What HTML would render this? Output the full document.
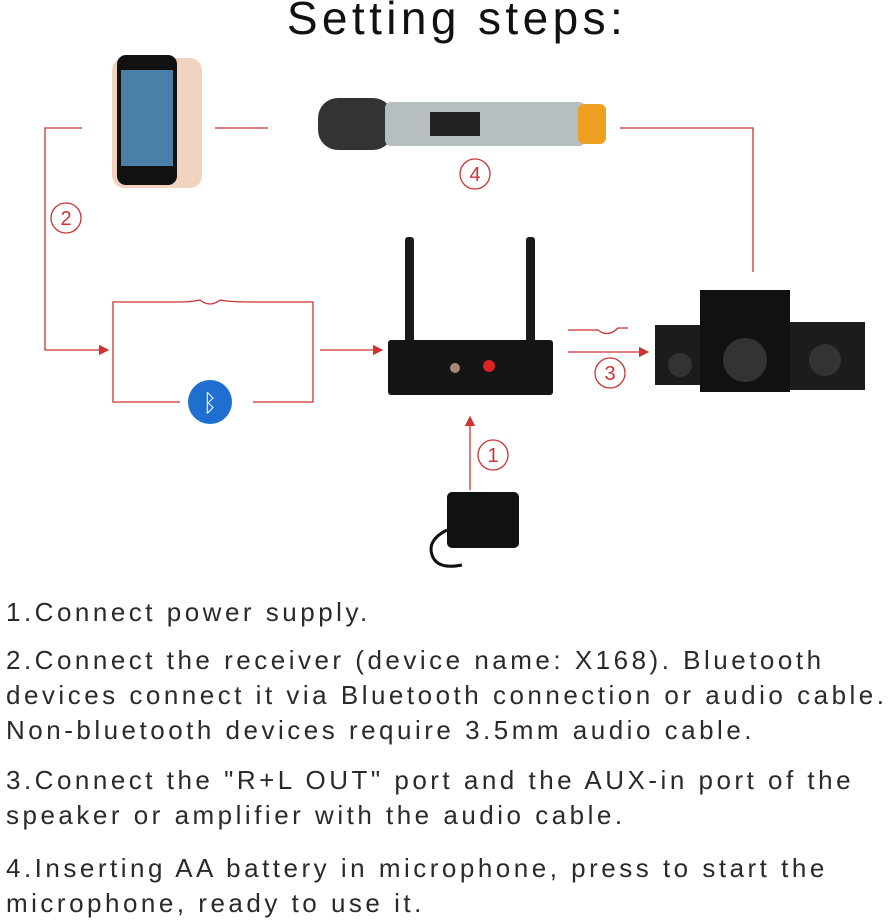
<!DOCTYPE html>
<html><head><meta charset="utf-8"><style>
body{margin:0;width:890px;height:921px;background:#fff;position:relative;overflow:hidden;font-family:"Liberation Sans",sans-serif}
.t{position:absolute;left:6px;white-space:nowrap;font-size:26px;letter-spacing:3.5px;color:#2a2a2a;line-height:35px}
</style></head><body>
<div style="position:absolute;top:-9px;left:0;width:914px;text-align:center;font-size:46px;letter-spacing:4.4px;color:#111">Setting steps:</div>
<svg width="890" height="600" style="position:absolute;left:0;top:0">
<defs><marker id="a" markerWidth="8" markerHeight="8" refX="7" refY="4" orient="auto"><path d="M0,0L8,4L0,8z" fill="#c33"/></marker></defs>
<g stroke="#c33" stroke-width="1.3" fill="none">
<path d="M82,128H45V350H108" marker-end="url(#a)"/>
<path d="M215,128H268"/>
<path d="M620,128H753V272"/>
<path d="M180,302H113V402H180M253,302H313V402H253"/>
<path d="M320,350H382" marker-end="url(#a)"/>
<path d="M568,352H648" marker-end="url(#a)"/>
<path d="M470,490V417" marker-end="url(#a)"/>
<circle cx="66" cy="218" r="15"/><circle cx="475" cy="174" r="15"/>
<circle cx="610" cy="373" r="15"/><circle cx="493" cy="455" r="15"/>
<path d="M180,302q10,0 20,-2q10,8 20,0 q10,2 33,2"/>
<path d="M568,330h30q10,8 20,-2h10"/>
</g>
<g fill="#c33" font-size="20" text-anchor="middle"><text x="66" y="225">2</text><text x="475" y="181">4</text><text x="610" y="380">3</text><text x="493" y="462">1</text></g>
<rect x="112" y="58" width="90" height="130" rx="12" fill="#f1d3c0"/>
<rect x="117" y="55" width="60" height="130" rx="9" fill="#111"/>
<rect x="121" y="70" width="52" height="96" fill="#4a7fa8"/>
<rect x="318" y="98" width="75" height="52" rx="20" fill="#333"/>
<rect x="385" y="102" width="200" height="44" rx="6" fill="#b7bec2"/>
<rect x="430" y="112" width="50" height="24" fill="#222"/>
<rect x="578" y="104" width="28" height="40" rx="6" fill="#f0a020"/>
<rect x="405" y="237" width="9" height="110" rx="3" fill="#1a1a1a"/>
<rect x="526" y="237" width="9" height="110" rx="3" fill="#1a1a1a"/>
<rect x="388" y="340" width="165" height="55" rx="3" fill="#151515"/>
<circle cx="489" cy="366" r="6" fill="#d22"/><circle cx="455" cy="368" r="5" fill="#a87" />
<rect x="655" y="325" width="50" height="60" fill="#1c1c1c"/>
<rect x="785" y="322" width="80" height="68" fill="#1c1c1c"/>
<rect x="700" y="290" width="90" height="102" fill="#111"/>
<circle cx="745" cy="360" r="22" fill="#333"/><circle cx="825" cy="360" r="16" fill="#333"/><circle cx="680" cy="365" r="12" fill="#333"/>
<circle cx="210" cy="402" r="22" fill="#1e6fd0"/>
<text x="210" y="411" fill="#fff" font-size="24" text-anchor="middle">ᛒ</text>
<rect x="447" y="492" width="72" height="56" rx="5" fill="#111"/>
<path d="M447,530q-20,10 -15,25t30,10" stroke="#111" stroke-width="3" fill="none"/>
</svg>
<div class="t" style="top:595px">1.Connect power supply.</div>
<div class="t" style="top:643px">2.Connect the receiver (device name: X168). Bluetooth</div>
<div class="t" style="top:678px">devices connect it via Bluetooth connection or audio cable.</div>
<div class="t" style="top:713px">Non-bluetooth devices require 3.5mm audio cable.</div>
<div class="t" style="top:763px">3.Connect the "R+L OUT" port and the AUX-in port of the</div>
<div class="t" style="top:798px">speaker or amplifier with the audio cable.</div>
<div class="t" style="top:851px">4.Inserting AA battery in microphone, press to start the</div>
<div class="t" style="top:886px">microphone, ready to use it.</div>
</body></html>
